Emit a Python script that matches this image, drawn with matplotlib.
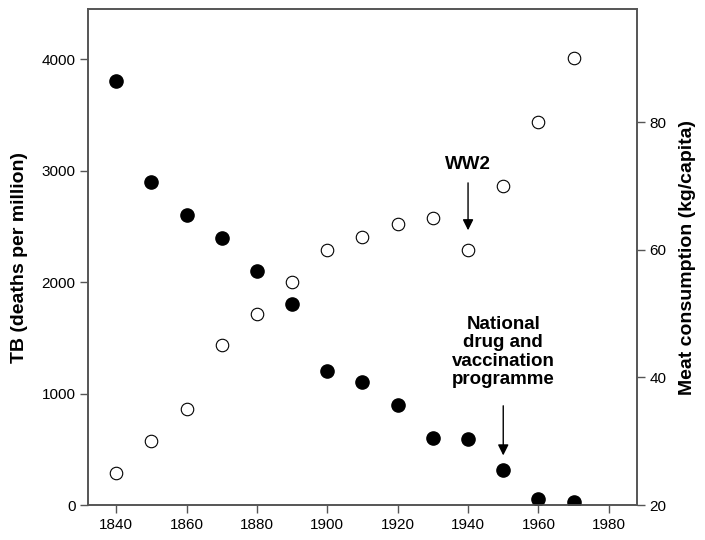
import numpy as np
import matplotlib.pyplot as plt

plt.rcParams['font.family'] = ['Liberation Sans', 'DejaVu Sans']

# data
years = [1840, 1850, 1860, 1870, 1880, 1890, 1900, 1910, 1920, 1930, 1940, 1950, 1960, 1970]
tb_deaths = [3800, 2900, 2600, 2400, 2100, 1800, 1200, 1100, 900, 600, 590, 310, 50, 25]
meat = [25, 30, 35, 45, 50, 55, 60, 62, 64, 65, 60, 70, 80, 90]
x_ticks = [1840, 1860, 1880, 1900, 1920, 1940, 1960, 1980]
left_ticks = [0, 1000, 2000, 3000, 4000]
right_ticks = [20, 40, 60, 80]

spine_col = '#555555'

fig = plt.figure(figsize=(7.05, 5.4), dpi=100)
ax = fig.add_axes([0.1248, 0.0648, 0.7787, 0.9185])
ax2 = ax.twinx()

ax.plot(years, tb_deaths, 'o', color='black', markersize=9.5, zorder=3)
ax2.plot(years, meat, 'o', markerfacecolor='white', markeredgecolor='black',
         markeredgewidth=0.8, markersize=9, zorder=3)

ax.set_xlim(1832, 1988)
ax.set_ylim(0, 4450)
ax2.set_ylim(20, 97.7)
ax.set_xticks(x_ticks)
ax.set_yticks(left_ticks)
ax2.set_yticks(right_ticks)

for a in (ax, ax2):
    for s in a.spines.values():
        s.set_color(spine_col)
        s.set_linewidth(1.2)
    a.tick_params(direction='out', length=6, width=1, color=spine_col,
                  labelsize=11, pad=3)

ax.set_ylabel('TB (deaths per million)', fontsize=14, fontweight='bold', labelpad=10)
ax2.set_ylabel('Meat consumption (kg/capita)', fontsize=14, fontweight='bold', labelpad=9)

# annotations
ax.annotate('', xy=(1940, 2440), xytext=(1940, 2915),
            arrowprops=dict(arrowstyle='-|>', color='black', lw=1, mutation_scale=16))
ax.text(1940, 3054, 'WW2', ha='center', va='center', fontsize=13.5, fontweight='bold')

ax.annotate('', xy=(1950, 420), xytext=(1950, 915),
            arrowprops=dict(arrowstyle='-|>', color='black', lw=1, mutation_scale=16))
ax.text(1950, 1372, 'National\ndrug and\nvaccination\nprogramme', ha='center', va='center',
        fontsize=13.5, fontweight='bold', linespacing=1.1)

fig.savefig('out.png', dpi=100)
